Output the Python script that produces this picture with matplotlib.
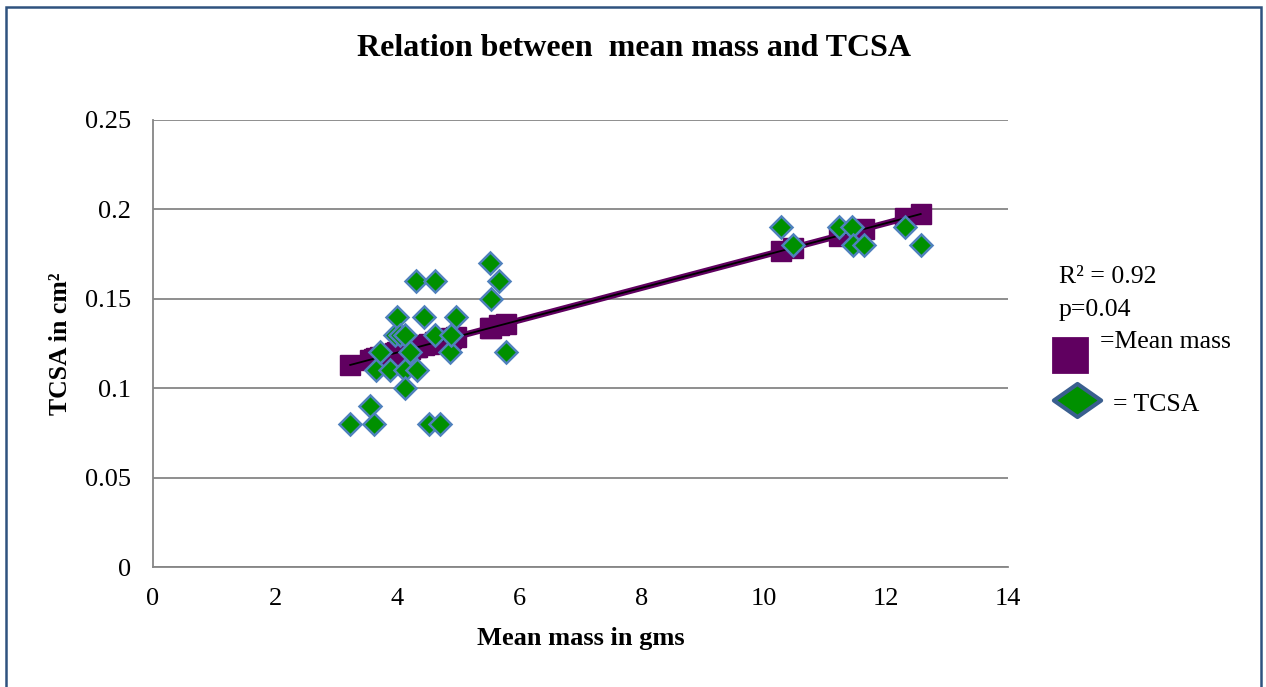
import numpy as np
import matplotlib
matplotlib.use("Agg")
import matplotlib.pyplot as plt
from matplotlib.lines import Line2D
from matplotlib.patches import Rectangle
from matplotlib.path import Path

plt.rcParams['font.family'] = ['Liberation Serif', 'DejaVu Serif']

# Data
mean_mass = [3.23, 3.55, 3.62, 3.65, 3.72, 3.88, 3.96, 4.00, 4.04, 4.12, 4.12, 4.13,
             4.21, 4.31, 4.32, 4.44, 4.52, 4.61, 4.62, 4.70, 4.86, 4.88, 4.96,
             5.52, 5.53, 5.67, 5.78,
             10.29, 10.48, 11.23, 11.44, 11.47, 11.64, 12.32, 12.57]
tcsa = [0.08, 0.09, 0.08, 0.11, 0.12, 0.11, 0.13, 0.14, 0.13, 0.11, 0.10, 0.13,
        0.12, 0.16, 0.11, 0.14, 0.08, 0.16, 0.13, 0.08, 0.12, 0.13, 0.14,
        0.17, 0.15, 0.16, 0.12,
        0.19, 0.18, 0.19, 0.19, 0.18, 0.18, 0.19, 0.18]
mean_mass_y = [0.1130, 0.1159, 0.1165, 0.1168, 0.1174, 0.1189, 0.1196, 0.1200, 0.1203,
               0.1210, 0.1210, 0.1211, 0.1219, 0.1228, 0.1229, 0.1239, 0.1247, 0.1255,
               0.1256, 0.1263, 0.1277, 0.1279, 0.1286, 0.1337, 0.1338, 0.1351, 0.1361,
               0.1768, 0.1785, 0.1853, 0.1872, 0.1875, 0.1890, 0.1952, 0.1974]
x_ticks = [0, 2, 4, 6, 8, 10, 12, 14]
y_ticks = [0, 0.05, 0.1, 0.15, 0.2, 0.25]
y_tick_labels = ['0', '0.05', '0.1', '0.15', '0.2', '0.25']

purple = '#600060'
green = '#009000'
edge_blue = '#4f81bd'

fig = plt.figure(figsize=(12.66, 6.87), dpi=100)
ax = fig.add_axes([153/1266, 1-567/687, (1008-153)/1266, (567-120)/687])

# squares (mean mass)
ax.plot(mean_mass, mean_mass_y, linestyle='none', marker='s', markersize=14,
        color=purple, markeredgecolor=purple, zorder=3)
# trend line
coef = np.polyfit(mean_mass, mean_mass_y, 1)
xs = np.array([min(mean_mass), max(mean_mass)])
ax.plot(xs, np.polyval(coef, xs), color=purple, lw=4.5, solid_capstyle='butt', zorder=4)
ax.plot(xs, np.polyval(coef, xs), color='black', lw=1.3, zorder=5)
# diamonds (TCSA)
ax.plot(mean_mass, tcsa, linestyle='none', marker='D', markersize=11.5,
        color=green, markeredgecolor=edge_blue, markeredgewidth=1.8, zorder=6)

ax.set_xlim(0, 14)
ax.set_ylim(0, 0.25)
ax.set_xticks(x_ticks)
ax.set_xticklabels([str(t) for t in x_ticks])
ax.set_yticks(y_ticks)
ax.set_yticklabels(y_tick_labels)
ax.tick_params(length=0, labelsize=19, pad=15)
ax.tick_params(axis='y', pad=16)
ax.grid(axis='y', color='#868686', lw=1.3)
ax.set_axisbelow(True)
for s in ['top', 'right']:
    ax.spines[s].set_visible(False)
for s in ['left', 'bottom']:
    ax.spines[s].set_color('#868686')
    ax.spines[s].set_linewidth(1.3)

ax.set_xlabel('Mean mass in gms', fontsize=19, fontweight='bold', labelpad=12)
ax.set_ylabel('TCSA in cm²', fontsize=18.5, fontweight='bold', labelpad=9)

fig.text(634/1266, 1-48/687, 'Relation between  mean mass and TCSA', fontsize=23,
         fontweight='bold', ha='center', va='center')

# custom legend
fig.text(1059/1266, 1-277/687, 'R² = 0.92', fontsize=18.5, va='center', ha='left')
fig.text(1059/1266, 1-310/687, 'p=0.04', fontsize=18.5, va='center', ha='left')
fig.add_artist(Line2D([1070/1266], [1-355/687], transform=fig.transFigure,
                      marker='s', markersize=25, color=purple, markeredgecolor=purple,
                      markeredgewidth=2, linestyle='none'))
fig.text(1100/1266, 1-342/687, '=Mean mass', fontsize=18.5, va='center', ha='left')
diamond = Path([(-1, 0), (0, 0.7), (1, 0), (0, -0.7), (-1, 0)],
               [Path.MOVETO, Path.LINETO, Path.LINETO, Path.LINETO, Path.CLOSEPOLY])
fig.add_artist(Line2D([1077/1266], [1-400/687], transform=fig.transFigure,
                      marker=diamond, markersize=34, color=green,
                      markeredgecolor='#3a5f8f', markeredgewidth=3, linestyle='none'))
fig.text(1113/1266, 1-405/687, '= TCSA', fontsize=18.5, va='center', ha='left')

# outer border
fig.add_artist(Rectangle((6/1266, -0.05), (1261-6)/1266, 1.05-7/687,
                         transform=fig.transFigure, fill=False,
                         edgecolor='#2f527f', lw=1.8))

fig.savefig('out.png', dpi=100)
